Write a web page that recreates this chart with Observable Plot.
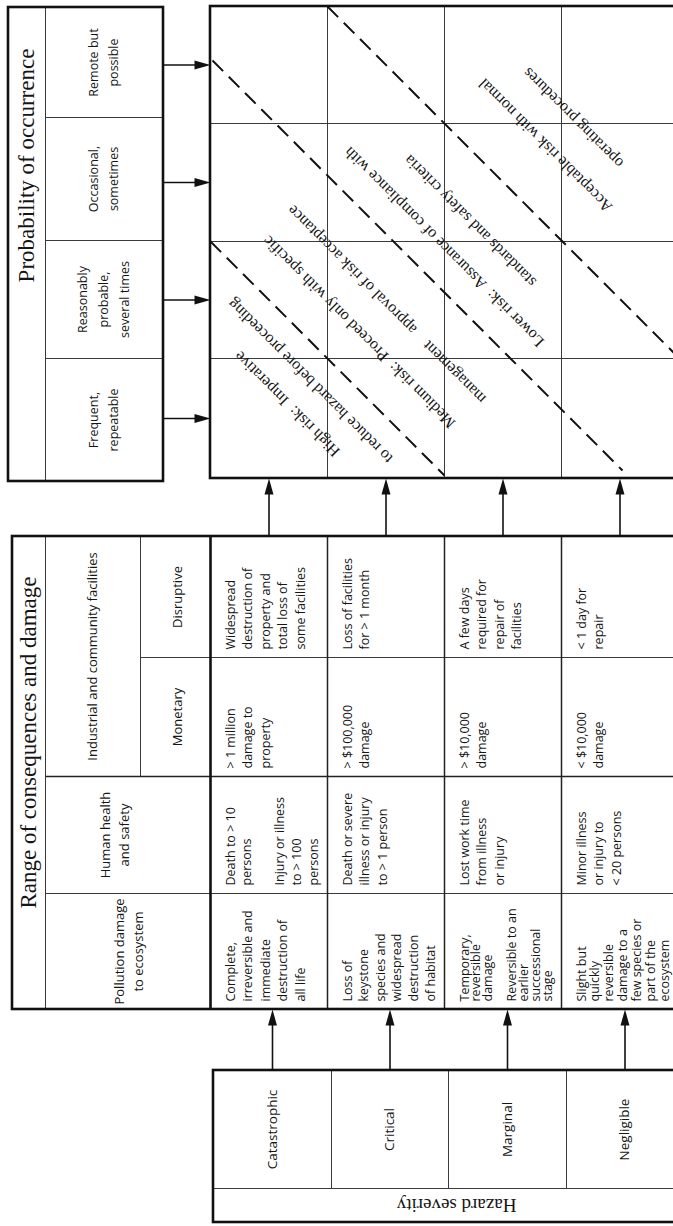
<!DOCTYPE html>
<html>
<head>
<meta charset="utf-8">
<script src="https://cdn.jsdelivr.net/npm/d3@7"></script>
<script src="https://cdn.jsdelivr.net/npm/@observablehq/plot@0.6"></script>
<style>
  html, body { margin: 0; padding: 0; background: #fff; overflow: hidden; }
  #chart svg { display: block; overflow: hidden; }
</style>
</head>
<body>
<div id="chart"></div>
<script>
// ---------------- DATA ----------------
const probabilityTitle = "Probability of occurrence";
const consequencesTitle = "Range of consequences and damage";
const severityTitle = "Hazard severity";

const probabilityLevels = [
  "Remote but\npossible",
  "Occasional,\nsometimes",
  "Reasonably\nprobable,\nseveral times",
  "Frequent,\nrepeatable"
];

const severityLevels = ["Catastrophic", "Critical", "Marginal", "Negligible"];

const facilitiesHeader = "Industrial and community facilities";
const consequenceCategories = [
  "Disruptive",
  "Monetary",
  "Human health\nand safety",
  "Pollution damage\nto ecosystem"
];

const disruptiveDamage = [
  "Widespread\ndestruction of\nproperty and\ntotal loss of\nsome facilities",
  "Loss of facilities\nfor > 1 month",
  "A few days\nrequired for\nrepair of\nfacilities",
  "< 1 day for\nrepair"
];
const monetaryDamage = [
  "> 1 million\ndamage to\nproperty",
  "> $100,000\ndamage",
  "> $10,000\ndamage",
  "< $10,000\ndamage"
];
const humanHealthDamage = [
  "Death to > 10\npersons\n\nInjury or illness\nto > 100\npersons",
  "Death or severe\nillness or injury\nto > 1 person",
  "Lost work time\nfrom illness\nor injury",
  "Minor illness\nor injury to\n< 20 persons"
];
const ecosystemDamage = [
  "Complete,\nirreversible and\nimmediate\ndestruction of\nall life",
  "Loss of\nkeystone\nspecies and\nwidespread\ndestruction\nof habitat",
  "Temporary,\nreversible\ndamage\n\nReversible to an\nearlier\nsuccessional\nstage",
  "Slight but\nquickly\nreversible\ndamage to a\nfew species or\npart of the\necosystem"
];

const riskZoneLines = [
  "High risk:  Imperative",
  "to reduce hazard before proceeding",
  "Medium risk:  Proceed only with specific",
  "management\u2002\u2002approval of risk acceptance",
  "Lower risk:  Assurance of compliance with",
  "standards and safety criteria",
  "Acceptable risk with normal",
  "operating procedures"
];

// ---------------- LAYOUT ----------------
const W = 673, H = 1226, RIGHT = 710;
const colEdges = [210, 327, 444, 561, 678];
const sevEdges = [213, 331, 448, 566, 683];
const matrixRows = [6, 123, 241, 358, 478];
const probRows = [7, 117, 240, 358, 481];
const probX = [8, 45, 163];
const probTextX = 101;
const consRows = [536, 657, 776, 893, 1009];
const consX = [12, 45, 140, 210];
const sevY = [1070, 1188, 1222];
const titlePos = {prob: [26, 165], cons: [28, 742], sev: [456, 1205]};
const headerX = [175, 175, 113, 127];
const zoneOffsets = [117, 71, -27, -82, -197, -249, -400, -455]; // y - x
const zoneCenter = 690; // x + y
const dividers = [
  {c: 31, from: 210, to: 444},
  {c: -152, from: 212, to: 622},
  {c: -321, from: 327, to: RIGHT}
];
const cellFont = "Open Sans";
const serif = "Liberation Serif";
const ink = "#151515";

const mid = (a, b) => (a + b) / 2;

// ---------------- GEOMETRY FROM LAYOUT ----------------
const thinLines = [];
thinLines.push({x1: probX[1], y1: probRows[0], x2: probX[1], y2: probRows[4]});
for (let i = 1; i < 4; i++) thinLines.push({x1: probX[1], y1: probRows[i], x2: probX[2], y2: probRows[i]});
for (let i = 1; i < 4; i++) {
  thinLines.push({x1: colEdges[i], y1: matrixRows[0], x2: colEdges[i], y2: matrixRows[4]});
  thinLines.push({x1: colEdges[0], y1: matrixRows[i], x2: RIGHT, y2: matrixRows[i]});
}
thinLines.push({x1: consX[1], y1: consRows[0], x2: consX[1], y2: consRows[4]});
thinLines.push({x1: consX[2], y1: consRows[0], x2: consX[2], y2: consRows[2]});
thinLines.push({x1: consX[2], y1: consRows[1], x2: RIGHT, y2: consRows[1]});
thinLines.push({x1: consX[1], y1: consRows[3], x2: RIGHT, y2: consRows[3]});
for (let i = 1; i < 4; i++) thinLines.push({x1: sevEdges[i], y1: sevY[0], x2: sevEdges[i], y2: sevY[1]});
thinLines.push({x1: sevEdges[0], y1: sevY[1], x2: RIGHT, y2: sevY[1]});

const mediumLines = [{x1: consX[1], y1: consRows[2], x2: RIGHT, y2: consRows[2]}];
for (let i = 1; i < 4; i++) mediumLines.push({x1: colEdges[i], y1: consRows[0], x2: colEdges[i], y2: consRows[4]});

const boldBoxes = [
  {x1: probX[0], y1: probRows[0], x2: probX[2], y2: probRows[4]},
  {x1: colEdges[0], y1: matrixRows[0], x2: RIGHT, y2: matrixRows[4]},
  {x1: consX[0], y1: consRows[0], x2: RIGHT, y2: consRows[4]},
  {x1: sevEdges[0], y1: sevY[0], x2: RIGHT, y2: sevY[2]}
];
const dataSeparator = [{x1: consX[3], y1: consRows[0], x2: consX[3], y2: consRows[4]}];

const dashed = dividers.map(d => ({x1: d.from, y1: d.from + d.c, x2: d.to, y2: d.to + d.c}));

// arrows
const HEAD = 8;
const rightShafts = [], upShafts = [], rightHeads = [], upHeads = [];
for (let i = 0; i < 4; i++) {
  const y = mid(matrixRows[i], matrixRows[i + 1]);
  rightShafts.push({x1: probX[2], y1: y, x2: colEdges[0] - HEAD, y2: y});
  rightHeads.push({x: colEdges[0] - HEAD, y});
  const xc = mid(colEdges[i], colEdges[i + 1]);
  upShafts.push({x1: xc, y1: consRows[0], x2: xc, y2: matrixRows[4] + HEAD});
  upHeads.push({x: xc, y: matrixRows[4] + HEAD});
  const xs = mid(sevEdges[i], sevEdges[i + 1]);
  upShafts.push({x1: xs, y1: sevY[0], x2: xs, y2: consRows[4] + HEAD});
  upHeads.push({x: xs, y: consRows[4] + HEAD});
}
const headUp = {draw(ctx, size) { const r = Math.sqrt(size / Math.PI);
  ctx.moveTo(0, -r); ctx.lineTo(r * 0.56, r); ctx.lineTo(-r * 0.56, r); ctx.closePath(); }};
const headRight = {draw(ctx, size) { const r = Math.sqrt(size / Math.PI);
  ctx.moveTo(r, 0); ctx.lineTo(-r, r * 0.56); ctx.lineTo(-r, -r * 0.56); ctx.closePath(); }};

// texts
const probCells = probabilityLevels.map((t, i) => ({text: t, x: probTextX, y: mid(probRows[i], probRows[i + 1])}));
const sevCells = severityLevels.map((t, i) => ({text: t, x: mid(sevEdges[i], sevEdges[i + 1]), y: mid(sevY[0], sevY[1])}));
const headerCells = consequenceCategories.map((t, i) => ({text: t, x: headerX[i], y: mid(consRows[i], consRows[i + 1])}));
const facilitiesCell = [{text: facilitiesHeader, x: mid(consX[1], consX[2]), y: mid(consRows[0], consRows[2])}];

const consRowsData = [disruptiveDamage, monetaryDamage, humanHealthDamage, ecosystemDamage];
const consLines = [];
consRowsData.forEach((row, r) => row.forEach((t, c) => {
  const lines = t.split("\n");
  const n = lines.length;
  const step = n > 1 ? Math.min(17.5, 83 / (n - 1)) : 0;
  lines.forEach((ln, k) => consLines.push({text: ln, x: colEdges[c] + 20 + k * step, y: consRows[r + 1] - 8}));
}));

const zoneTexts = riskZoneLines.map((t, i) => ({text: t, x: (zoneCenter - zoneOffsets[i]) / 2, y: (zoneCenter + zoneOffsets[i]) / 2}));

const link = (data, o) => Plot.link(data, {x1: "x1", y1: "y1", x2: "x2", y2: "y2", ...o});
const txt = (data, o) => Plot.text(data, {x: "x", y: "y", text: "text", fill: ink, ...o});

const chart = Plot.plot({
  width: W, height: H, margin: 0,
  x: {type: "linear", domain: [0, W], range: [0, W], axis: null},
  y: {type: "linear", domain: [0, H], range: [0, H], axis: null},
  style: {background: "#fff"},
  marks: [
    link(thinLines, {stroke: "#3a3a3a", strokeWidth: 1}),
    link(mediumLines, {stroke: "#222", strokeWidth: 1.5}),
    link(dashed, {stroke: "#111", strokeWidth: 2, strokeDasharray: "15,8"}),
    Plot.rect(boldBoxes, {x1: "x1", y1: "y1", x2: "x2", y2: "y2", fill: "none", stroke: "#111", strokeWidth: 2.6}),
    link(dataSeparator, {stroke: "#111", strokeWidth: 2.6}),
    link(rightShafts, {stroke: "#111", strokeWidth: 1.6}),
    link(upShafts, {stroke: "#111", strokeWidth: 1.6}),
    Plot.dot(rightHeads, {x: "x", y: "y", r: HEAD, symbol: headRight, fill: "#111", stroke: "none"}),
    Plot.dot(upHeads, {x: "x", y: "y", r: HEAD, symbol: headUp, fill: "#111", stroke: "none"}),
    txt([{text: probabilityTitle, x: titlePos.prob[0], y: titlePos.prob[1]}], {rotate: -90, fontFamily: serif, fontSize: 23}),
    txt([{text: consequencesTitle, x: titlePos.cons[0], y: titlePos.cons[1]}], {rotate: -90, fontFamily: serif, fontSize: 23}),
    txt([{text: severityTitle, x: titlePos.sev[0], y: titlePos.sev[1]}], {rotate: 180, fontFamily: serif, fontSize: 19}),
    txt(probCells, {rotate: -90, fontFamily: cellFont, fontSize: 12.5, lineHeight: 1.65}),
    txt(sevCells, {rotate: -90, fontFamily: cellFont, fontSize: 13.5}),
    txt(headerCells, {rotate: -90, fontFamily: cellFont, fontSize: 13, lineHeight: 1.5}),
    txt(facilitiesCell, {rotate: -90, fontFamily: cellFont, fontSize: 13}),
    txt(consLines, {rotate: -90, fontFamily: cellFont, fontSize: 12.5, textAnchor: "start"}),
    txt(zoneTexts, {rotate: -135, fontFamily: serif, fontSize: 16})
  ]
});
document.getElementById("chart").appendChild(chart);
</script>
</body>
</html>
